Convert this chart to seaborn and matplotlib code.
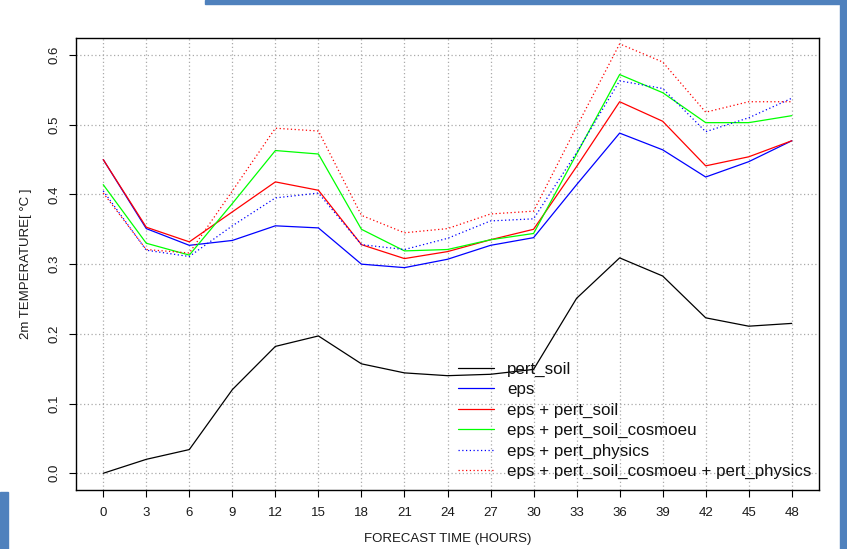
import matplotlib
matplotlib.use("Agg")
import matplotlib.pyplot as plt
from matplotlib.patches import Rectangle
import seaborn as sns
import pandas as pd

hours = [0, 3, 6, 9, 12, 15, 18, 21, 24, 27, 30, 33, 36, 39, 42, 45, 48]
pert_soil = [0.000, 0.020, 0.034, 0.120, 0.182, 0.197, 0.157, 0.144, 0.140,
             0.142, 0.149, 0.251, 0.309, 0.283, 0.223, 0.211, 0.215]
eps = [0.450, 0.351, 0.327, 0.334, 0.355, 0.352, 0.300, 0.295, 0.307,
       0.327, 0.338, 0.414, 0.488, 0.464, 0.425, 0.447, 0.477]
eps_pert_soil = [0.450, 0.353, 0.332, 0.375, 0.418, 0.406, 0.328, 0.308, 0.318,
                 0.335, 0.350, 0.440, 0.533, 0.505, 0.441, 0.454, 0.477]
eps_pert_soil_cosmoeu = [0.414, 0.330, 0.313, 0.387, 0.463, 0.458, 0.350, 0.319, 0.321,
                         0.335, 0.344, 0.458, 0.572, 0.546, 0.503, 0.503, 0.513]
eps_pert_physics = [0.405, 0.320, 0.311, 0.355, 0.395, 0.402, 0.328, 0.321, 0.337,
                    0.362, 0.365, 0.460, 0.563, 0.552, 0.490, 0.510, 0.538]
eps_all = [0.402, 0.321, 0.316, 0.405, 0.495, 0.491, 0.370, 0.345, 0.351,
           0.372, 0.376, 0.497, 0.616, 0.590, 0.518, 0.533, 0.533]

series_labels = ["pert_soil", "eps", "eps + pert_soil", "eps + pert_soil_cosmoeu",
                 "eps + pert_physics", "eps + pert_soil_cosmoeu + pert_physics"]
series_values = [pert_soil, eps, eps_pert_soil, eps_pert_soil_cosmoeu,
                 eps_pert_physics, eps_all]
series_colors = ["black", "blue", "red", "#00FF00", "blue", "red"]
series_dotted = [False, False, False, False, True, True]

y_ticks = [0.0, 0.1, 0.2, 0.3, 0.4, 0.5, 0.6]
y_ticklabels = ["0.0", "0.1", "0.2", "0.3", "0.4", "0.5", "0.6"]
x_label = "FORECAST TIME (HOURS)"
y_label = "2m TEMPERATURE[ °C ]"

sns.set_theme(style="white")
plt.rcParams["font.family"] = ["Liberation Sans", "DejaVu Sans"]

W, H = 847, 549
fig = plt.figure(figsize=(W / 100, H / 100), dpi=100)
fig.patch.set_facecolor("white")
ax = fig.add_axes([75.7 / W, 1 - 490 / H, (819.3 - 75.7) / W, (490 - 38.3) / H])
ax.set_facecolor("white")

for lab, vals, col, dot in zip(series_labels, series_values, series_colors, series_dotted):
    df = pd.DataFrame({"hour": hours, "value": vals})
    ls = (0, (1, 2)) if dot else "-"
    sns.lineplot(data=df, x="hour", y="value", ax=ax, color=col, linewidth=0.9,
                 linestyle=ls, label=lab, zorder=3)

ax.set_xlim(-1.92, 49.92)
ax.set_ylim(-0.024, 0.624)
ax.set_xticks(hours)
ax.set_xticklabels([str(h) for h in hours], fontsize=9.5)
ax.set_yticks(y_ticks)
ax.set_yticklabels(y_ticklabels, fontsize=9.5, rotation=90, va="center")
ax.grid(True, color="#AAAAAA", linestyle=(0, (1, 2)), linewidth=0.9, zorder=0)
ax.tick_params(axis="both", which="major", direction="out", length=5, width=0.8,
               color="black", labelcolor="#1a1a1a", bottom=True, left=True)
ax.tick_params(axis="x", pad=7)
ax.tick_params(axis="y", pad=6)
for s in ax.spines.values():
    s.set_visible(True)
    s.set_color("black")
    s.set_linewidth(1.0)

ax.set_xlabel(x_label, fontsize=9.5, color="#1a1a1a", labelpad=10)
ax.set_ylabel(y_label, fontsize=9.5, color="#1a1a1a", labelpad=12)

leg = ax.legend(loc="upper left", bbox_to_anchor=(458 / W, 1 - 362 / H),
                bbox_transform=fig.transFigure, frameon=False, fontsize=12.2,
                handlelength=2.1, handletextpad=0.8, labelspacing=0.31,
                borderpad=0, borderaxespad=0)
for t in leg.get_texts():
    t.set_color("#111111")

# screenshot border decorations
blue = "#4F81BD"
fig.patches.append(Rectangle((205 / W, 1 - 4 / H), (840 - 205) / W, 4 / H,
                             transform=fig.transFigure, color=blue, zorder=10))
fig.patches.append(Rectangle((840 / W, 0), 7 / W, 1, transform=fig.transFigure,
                             color=blue, zorder=10))
fig.patches.append(Rectangle((0, 0), 8 / W, (549 - 492) / H, transform=fig.transFigure,
                             color=blue, zorder=10))

fig.savefig("out.png", dpi=100, facecolor="white")
